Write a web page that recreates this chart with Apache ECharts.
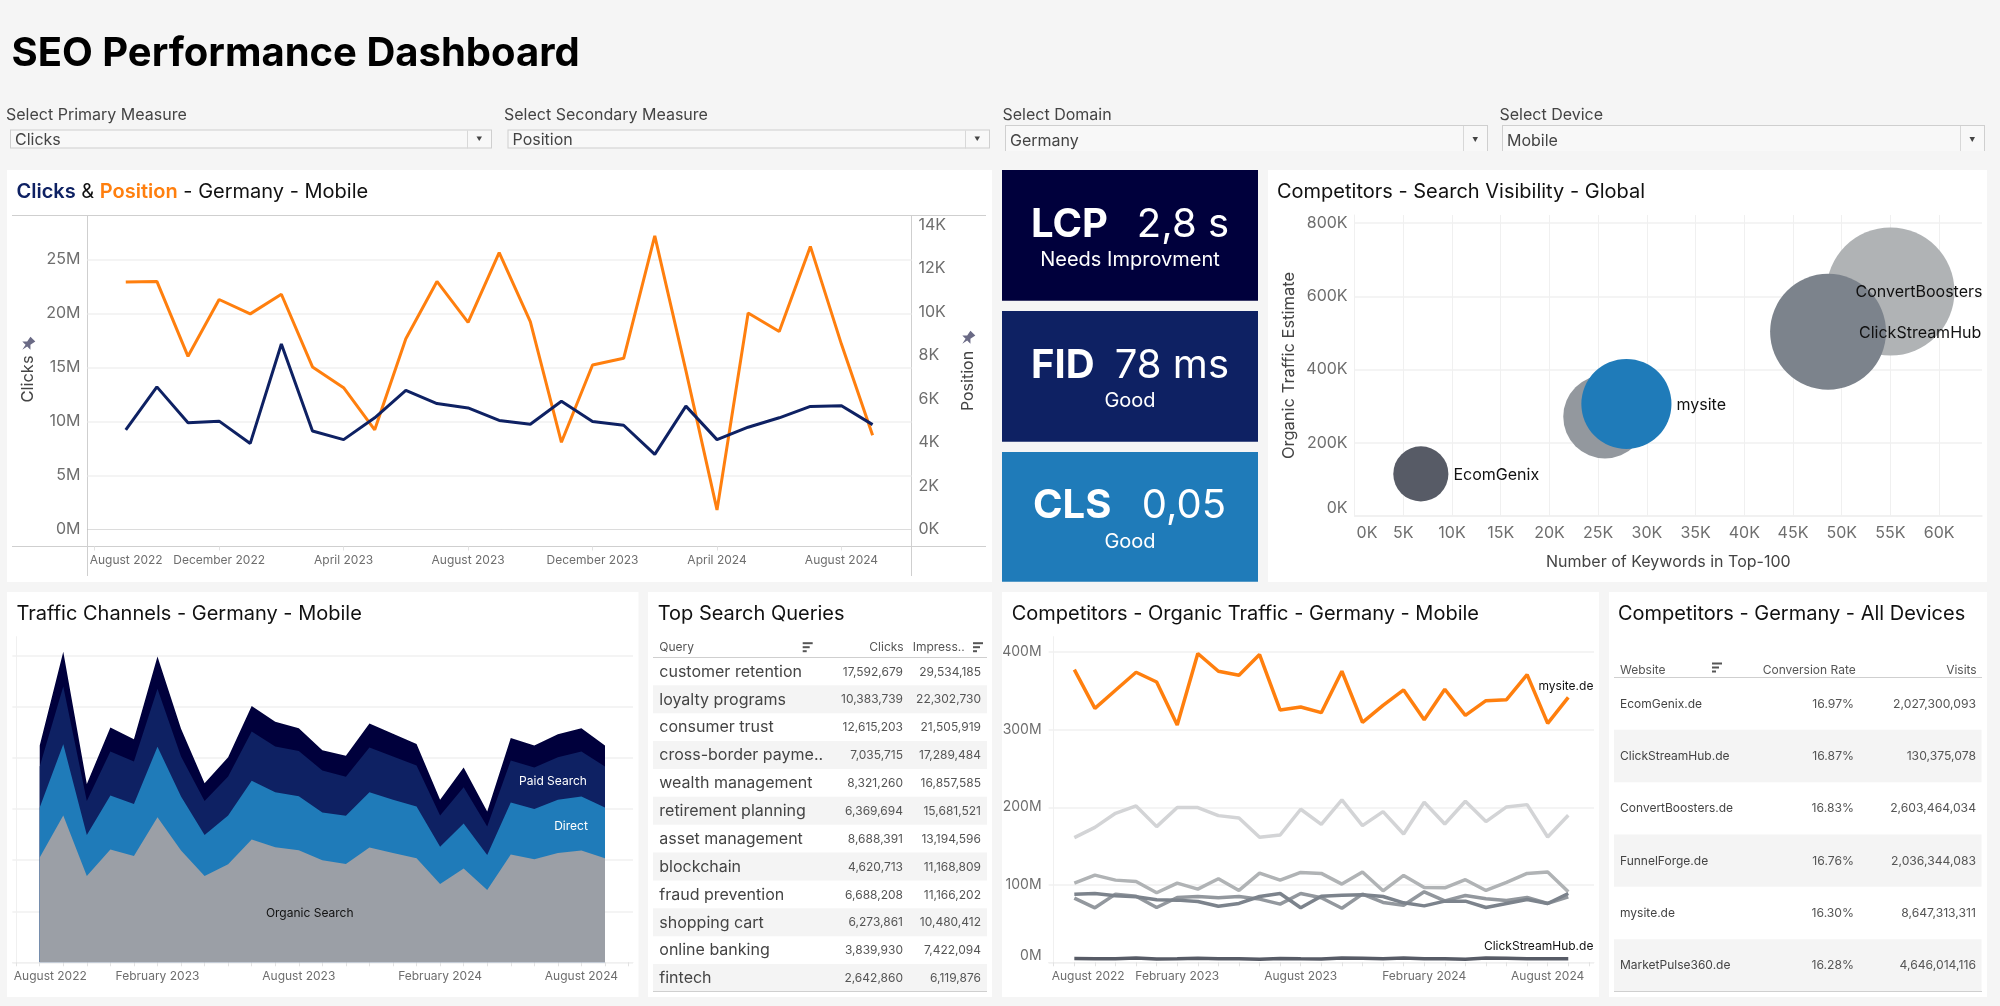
<!DOCTYPE html>
<html><head><meta charset="utf-8">
<style>html,body{margin:0;padding:0;background:#f5f5f5;overflow:hidden}#c{width:2000px;height:1006px}</style>
<script src="https://cdn.jsdelivr.net/npm/echarts@6/dist/echarts.min.js"></script>
</head><body><div id="c"></div>
<script>
// ---------- data ----------
const months = ['August 2022','September 2022','October 2022','November 2022','December 2022','January 2023','February 2023','March 2023','April 2023','May 2023','June 2023','July 2023','August 2023','September 2023','October 2023','November 2023','December 2023','January 2024','February 2024','March 2024','April 2024','May 2024','June 2024','July 2024','August 2024','September 2024','October 2024'];
const clicksM = [9.23,13.2,9.89,10.03,7.97,17.17,9.12,8.32,10.34,12.88,11.66,11.25,10.1,9.75,11.87,9.99,9.65,6.96,11.42,8.32,9.47,10.34,11.39,11.46,9.71];
const positionK = [11.37,11.40,7.96,10.57,9.91,10.81,7.47,6.52,4.58,8.77,11.40,9.52,12.72,9.55,4.01,7.56,7.87,13.49,7.3,0.90,9.95,9.10,13.01,8.51,4.33];
const clickTicks = [0,5,10,15,20,25];
const positionTicks = [0,2,4,6,8,10,12,14];
const fourMonthTicks = [0,4,8,12,16,20,24];
const sixMonthTicks = [0,6,12,18,24];
const everyMonth = months.map((m,i)=>i);

const organicSearch = [10.26,14.38,8.46,11.05,10.42,14.22,10.95,8.46,9.61,12.03,11.27,10.98,10.0,9.64,11.24,10.72,10.2,7.68,9.18,7.09,10.56,10.1,10.72,10.95,10.2];
const direct = [4.90,6.99,4.02,5.29,5.10,6.90,5.29,4.02,4.77,5.75,5.39,5.29,4.67,4.71,5.42,5.20,5.07,3.63,4.41,3.43,5.10,4.93,5.20,5.29,4.97];
const paidSearch = [4.02,5.65,3.33,4.31,4.15,5.69,3.92,3.33,3.82,4.84,4.48,4.44,4.12,3.82,4.38,4.25,4.02,3.07,3.56,2.78,4.12,4.05,4.18,4.41,4.02];
const otherChannels = [2.06,3.40,1.67,2.35,2.19,3.14,2.71,1.73,1.90,2.48,2.42,2.22,1.99,2.06,2.35,2.22,2.09,1.54,1.93,1.47,2.19,2.16,2.25,2.29,2.06];
const channelTicks = [0,5,10,15,20,25,30];

const mysiteTraffic = [377.6,327.6,350.9,374.1,361.6,306,398.3,375.4,370.3,397,325.4,329.3,322,375.4,309.5,331.5,351.3,312.9,352.2,318.5,337.5,338.8,371.1,308.2,341.8];
const convertTraffic = [160.8,174.1,192.2,201.7,175,199.6,199.6,189.2,186.2,161.2,164.2,197.4,178,209.5,176.3,194.4,165.5,206.5,178.4,207.8,181.5,200.4,203.4,161.6,189.7];
const pulseTraffic = [102.2,112.5,106,104.3,89.7,102.2,94.4,107.8,92.7,115.1,106,115.9,114.7,100.9,116.4,92.2,112.1,96.6,96.1,106.5,92.7,103,114.7,116.4,90.9];
const funnelTraffic = [87.9,88.8,85.8,84.5,80.6,80.2,78.4,72.4,75.9,84.9,88.8,70.3,85.3,86.6,87.1,84.9,76.7,72.8,78.9,78.9,70.7,75.9,81,75.9,88.8];
const ecomTraffic = [82.8,70.3,87.9,85.3,70.7,83.6,84.9,83.2,84.9,81.5,75,88.8,83.2,69.8,87.9,77.2,73.7,90.9,79.3,86.2,81.9,79.7,83.6,75.9,84.5];
const clickHubTraffic = [4.8,4.7,4.5,5.6,4.4,4.5,5.3,4.5,4.6,4.0,5.0,4.5,4.2,5.7,5.3,4.7,5.5,4.5,4.6,4.0,5.6,5.3,4.5,4.5,4.6];
const trafficTicks = [0,100,200,300,400];

const bubbleNames = ['ConvertBoosters','ClickStreamHub','FunnelForge','EcomGenix','mysite'];
const bubbleKeywordsK = [55,48.6,25.7,6.8,27.9];
const bubbleTrafficK = [613,503,271,115,306];
const bubbleVisibility = [41.0,33.6,17.4,7.6,20.3];
const keywordTicks = [0,5,10,15,20,25,30,35,40,45,50,55,60];
const trafficKTicks = [0,200,400,600,800];

const queries = ['customer retention','loyalty programs','consumer trust','cross-border payme..','wealth management','retirement planning','asset management','blockchain','fraud prevention','shopping cart','online banking','fintech'];
const queryClicks = ['17,592,679','10,383,739','12,615,203','7,035,715','8,321,260','6,369,694','8,688,391','4,620,713','6,688,208','6,273,861','3,839,930','2,642,860'];
const queryImpressions = ['29,534,185','22,302,730','21,505,919','17,289,484','16,857,585','15,681,521','13,194,596','11,168,809','11,166,202','10,480,412','7,422,094','6,119,876'];

const websites = ['EcomGenix.de','ClickStreamHub.de','ConvertBoosters.de','FunnelForge.de','mysite.de','MarketPulse360.de'];
const conversionRates = ['16.97%','16.87%','16.83%','16.76%','16.30%','16.28%'];
const visits = ['2,027,300,093','130,375,078','2,603,464,034','2,036,344,083','8,647,313,311','4,646,014,116'];

const kpis = [['LCP','2,8 s','Needs Improvment'],['FID','78 ms','Good'],['CLS','0,05','Good']];
const filters = [['Select Primary Measure','Clicks'],['Select Secondary Measure','Position'],['Select Domain','Germany'],['Select Device','Mobile']];

// ---------- style ----------
const FONT = 'Inter, "Noto Sans", sans-serif';
const NAVY='#0e2163', DARK='#00003c', BLUE='#1f7bb9', ORANGE='#ff7f0e', TICK='#6e6e6e', GRID='#f0f0f0', RULE='#cfcfcf', INK='#111111';
const bubbleColors = ['#b0b3b5','#7c838c','#93989e','#575b66',BLUE];

const g = [];
const rect=(x,y,w,h,fill,z)=>g.push({type:'rect',z:z===undefined?-100:z,silent:true,shape:{x,y,width:w,height:h},style:{fill}});
const line=(x1,y1,x2,y2,stroke,z)=>g.push({type:'line',z:z===undefined?-50:z,silent:true,shape:{x1,y1,x2,y2},style:{stroke,lineWidth:1}});
const text=(x,y,t,size,fill,o={})=>g.push({type:'text',z:100,silent:true,x,y:y+1,rotation:o.rotation||0,style:Object.assign({text:t,fill,font:`${o.weight||400} ${size}px ${FONT}`,textAlign:o.align||'left',textVerticalAlign:'middle',verticalAlign:'middle'},o.extra||{})});
const sortIcon=(x,y)=>{[10,7,4].forEach((w,i)=>rect(x,y-4.5+i*4,w,2,'#555',50));};
const pin=(x,y)=>g.push({type:'polygon',z:50,silent:true,x,y,rotation:-Math.PI/4,scaleX:1.15,scaleY:1.15,shape:{points:[[-3,-6],[3,-6],[2,-1],[5,2],[1,2],[0,7],[-1,2],[-5,2],[-2,-1]]},style:{fill:'#6a6a85'}});

// page
text(11.5,52.5,'SEO Performance Dashboard',40,'#000',{weight:700});
const filterX=[[6,10,482],[504,507.5,482.5],[1002.5,1005,483],[1499.5,1502,483]];
filters.forEach((f,i)=>{
  const [lx,bx,bw]=filterX[i]; const clipped=i>1; const by=clipped?125:129.5; const bh=clipped?26:19;
  text(lx,114,f[0],16,'#444');
  rect(bx,by,bw,bh,'#cfcfcf'); rect(bx+1,by+1,bw-2,clipped?bh:bh-2,'#f8f8f8');
  if(clipped) rect(bx-1,by+bh,bw+2,2,'#f5f5f5');
  rect(bx+bw-25,by+1,1,bh-1,'#d8d8d8');
  text(bx+5,clipped?140.5:139.5,f[1],16,'#444');
  g.push({type:'polygon',z:50,silent:true,shape:{points:[[bx+bw-15.5,(clipped?137:136.5)],[bx+bw-10,(clipped?137:136.5)],[bx+bw-12.75,(clipped?142:141)]]},style:{fill:'#444'}});
});

// panels
const panels=[[7,170,985,412],[1268,170,719,412],[7,592,631.5,405],[648,592,344,405],[1002,592,597,405],[1609,592,378,405]];
panels.forEach(p=>rect(p[0],p[1],p[2],p[3],'#fff'));

// panel 1 furniture
g.push({type:'text',z:100,silent:true,x:16.5,y:192,style:{text:'{a|Clicks}{c| & }{b|Position}{c| - Germany - Mobile}',textVerticalAlign:'middle',verticalAlign:'middle',rich:{a:{font:`600 20px ${FONT}`,fill:NAVY},b:{font:`600 20px ${FONT}`,fill:ORANGE},c:{font:`400 20px ${FONT}`,fill:INK}}}});
line(12,215.5,986,215.5,RULE); line(12,546.5,986,546.5,RULE);
line(87.5,215.5,87.5,576,RULE); line(911.5,215.5,911.5,576,RULE);
text(28,378,'Clicks',16.5,'#444',{rotation:Math.PI/2,align:'center'});
text(968,380,'Position',16,'#444',{rotation:Math.PI/2,align:'center'});
pin(28,344); pin(968,338);

// KPIs
const kpiBoxes=[[170,130.7,DARK],[311,130.7,NAVY],[452,129.7,BLUE]];
const kpiLay=[[1031,1229,223.5,259],[1031,1229,365,400],[1033,1226,505,541]];
kpis.forEach((k,i)=>{
  const [y,h,c]=kpiBoxes[i]; rect(1002,y,256,h,c);
  const [l,r,yy,sy]=kpiLay[i];
  text(l,yy,k[0],40,'#fff',{weight:700});
  text(r,yy,k[1],40,'#fff',{align:'right'});
  text(1130,sy,k[2],20,'#fff',{align:'center'});
});

// titles
text(1277,191,'Competitors - Search Visibility - Global',20,INK);
text(16.5,612.7,'Traffic Channels - Germany - Mobile',20,INK);
text(657.7,612.7,'Top Search Queries',20,INK);
text(1011.7,612.7,'Competitors - Organic Traffic - Germany - Mobile',20,INK);
text(1618,612.7,'Competitors - Germany - All Devices',20,INK);

// in-chart labels
text(553,780.7,'Paid Search',12,'#fff',{align:'center'});
text(571,825.7,'Direct',12,'#fff',{align:'center'});
text(309.7,912.7,'Organic Search',12,INK,{align:'center'});
text(1593.4,685,'mysite.de',12,INK,{align:'right'});
text(1593.4,945.7,'ClickStreamHub.de',12,INK,{align:'right'});

// Top queries table
text(659.3,646.7,'Query',12,'#555');
text(903.7,646.7,'Clicks',12,'#555',{align:'right'});
text(912.7,646.7,'Impress..',12,'#555');
sortIcon(802.7,646.7); sortIcon(973,646.7);
line(653,657.5,987,657.5,RULE,50); line(653,991.5,987,991.5,RULE,50);
const qh=27.87;
queries.forEach((q,i)=>{
  const top=657.5+i*qh;
  if(i%2) rect(653,top,334,qh,'#f4f4f4',-90);
  text(659.3,top+qh/2-0.5,q,16,'#444');
  text(903,top+qh/2-0.5,queryClicks[i],12,'#555',{align:'right'});
  text(981,top+qh/2-0.5,queryImpressions[i],12,'#555',{align:'right'});
});

// Competitors table
text(1620,669.7,'Website',12,'#555');
text(1855.7,669.7,'Conversion Rate',12,'#555',{align:'right'});
text(1976.7,669.7,'Visits',12,'#555',{align:'right'});
sortIcon(1712,667);
line(1614,677.5,1982,677.5,RULE,50); line(1614,991.5,1982,991.5,RULE,50);
const wh=52.33;
websites.forEach((w,i)=>{
  const top=677.5+i*wh;
  if(i%2) rect(1614,top,367.5,wh,'#f4f4f4',-90);
  text(1620,top+wh/2-0.5,w,12,'#444');
  text(1854,top+wh/2-0.5,conversionRates[i],12.2,'#555',{align:'right'});
  text(1976,top+wh/2-0.5,visits[i],12.2,'#555',{align:'right'});
});

// ---------- chart ----------
const pts=a=>a.map((v,i)=>[i+1,v]);
const sum=(...arrs)=>arrs[0].map((_,i)=>arrs.reduce((s,a)=>s+a[i],0));
const monthLabel=v=>months[Math.round(v)];
const tickLbl=(size=16)=>({color:TICK,fontFamily:FONT,fontSize:size});
const monthAxis=(gridIndex,min,max,labels,ticks,lineColor)=>({type:'value',gridIndex,min,max,
  splitLine:{show:false},
  axisLine:{show:true,onZero:false,lineStyle:{color:lineColor}},
  axisTick:{show:true,length:4,lineStyle:{color:'#e2e2e2'},customValues:ticks},
  axisLabel:Object.assign(tickLbl(12),{customValues:labels,formatter:monthLabel,alignMinLabel:'left',margin:8})});
const valAxis=(gridIndex,min,max,ticks,fmt,opts={})=>Object.assign({type:'value',gridIndex,min,max,
  splitLine:{show:true,lineStyle:{color:GRID,width:1.5}},
  axisLine:{show:opts.axisLine!==false,lineStyle:{color:GRID}},
  axisTick:{show:false,customValues:opts.lineTicks||ticks},
  axisLabel:Object.assign(tickLbl(opts.size||16),{show:opts.labels!==false,customValues:ticks,formatter:fmt,margin:opts.margin||7,padding:[2,0,0,0],verticalAlignMinLabel:opts.minBottom?'bottom':undefined})});
const lineS=(name,xi,yi,data,color,width=3,extra={})=>Object.assign({type:'line',name,xAxisIndex:xi,yAxisIndex:yi,data:pts(data),symbol:'none',smooth:false,silent:true,animation:false,lineStyle:{color,width},itemStyle:{color}},extra);
const areaS=(name,xi,yi,data,color)=>Object.assign(lineS(name,xi,yi,data,color,0,{areaStyle:{color,opacity:1}}),{lineStyle:{width:0,opacity:0}});

const option={
  backgroundColor:'#f5f5f5',animation:false,
  grid:[
    {left:87.5,top:215.5,width:824,height:331},
    {left:1354.6,top:215,width:627.4,height:301},
    {left:12.4,top:636.7,width:620.6,height:325.6},
    {left:1048.6,top:636.7,width:545.4,height:325.6}
  ],
  xAxis:[
    monthAxis(0,-0.23,26.25,[-0.16,...fourMonthTicks.slice(1)],fourMonthTicks,'transparent'),
    {type:'value',gridIndex:1,min:0,max:64.4,splitLine:{show:true,lineStyle:{color:GRID}},
      axisLine:{show:true,lineStyle:{color:GRID,width:1.5}},axisTick:{show:false,customValues:keywordTicks},
      axisLabel:Object.assign(tickLbl(16),{customValues:[0.2,...keywordTicks.slice(1)],formatter:v=>Math.round(v)+'K',alignMinLabel:'left',margin:9}),
      name:'Number of Keywords in Top-100',nameLocation:'middle',nameGap:38,nameTextStyle:{color:'#444',fontFamily:FONT,fontSize:16}},
    monthAxis(2,-0.16,26.19,[-0.1,...sixMonthTicks.slice(1)],everyMonth,GRID),
    monthAxis(3,-0.25,26.25,[-0.1,...sixMonthTicks.slice(1)],everyMonth,GRID)
  ],
  yAxis:[
    valAxis(0,-1.57,29.06,clickTicks,v=>v+'M',{axisLine:false,lineTicks:clickTicks.slice(1)}),
    Object.assign(valAxis(0,-0.78,14.43,positionTicks,v=>v+'K',{axisLine:false}),{position:'right',splitLine:{show:false}}),
    Object.assign(valAxis(1,0,822,trafficKTicks,v=>v+'K',{minBottom:true}),{name:'Organic Traffic Estimate',nameLocation:'middle',nameGap:57,nameRotate:90,nameTextStyle:{color:'#444',fontFamily:FONT,fontSize:16.5}}),
    valAxis(2,0,31.9,channelTicks,v=>v,{labels:false}),
    valAxis(3,0,420,trafficTicks,v=>v+'M',{size:14,minBottom:true})
  ],
  graphic:{elements:g},
  series:[
    lineS('Position',0,1,positionK,ORANGE,3,{markLine:{silent:true,symbol:'none',label:{show:false},lineStyle:{color:'#b8b8b8',type:'dotted',width:1},data:[{yAxis:0}],animation:false}}),
    lineS('Clicks',0,0,clicksM,NAVY,3),
    {type:'scatter',name:'Visibility',xAxisIndex:1,yAxisIndex:2,silent:true,animation:false,
      data:bubbleNames.map((n,i)=>({name:n,value:[bubbleKeywordsK[i],bubbleTrafficK[i],bubbleVisibility[i]],
        itemStyle:{color:bubbleColors[i],opacity:1},
        label:{show:n!=='FunnelForge',position:'right',distance:5,offset:n==='ConvertBoosters'?[-104,1]:n==='ClickStreamHub'?[-32,1]:[0,1],formatter:n,color:INK,fontFamily:FONT,fontSize:16}})),
      symbolSize:v=>20*Math.sqrt(v[2])},
    areaS('Other',2,3,sum(organicSearch,direct,paidSearch,otherChannels),DARK),
    areaS('Paid Search',2,3,sum(organicSearch,direct,paidSearch),NAVY),
    areaS('Direct',2,3,sum(organicSearch,direct),BLUE),
    areaS('Organic Search',2,3,organicSearch,'#9b9fa6'),
    lineS('ConvertBoosters.de',3,4,convertTraffic,'#d3d4d6',3.5),
    lineS('MarketPulse360.de',3,4,pulseTraffic,'#b0b3b5',3.5),
    lineS('EcomGenix.de',3,4,ecomTraffic,'#93989e',3.5),
    lineS('FunnelForge.de',3,4,funnelTraffic,'#7c838c',3.5),
    lineS('ClickStreamHub.de',3,4,clickHubTraffic,'#575b66',3.5),
    lineS('mysite.de',3,4,mysiteTraffic,ORANGE,3.5)
  ]
};
const chart=echarts.init(document.getElementById('c'),null,{renderer:'canvas',width:2000,height:1006});
chart.setOption(option);
</script></body></html>
